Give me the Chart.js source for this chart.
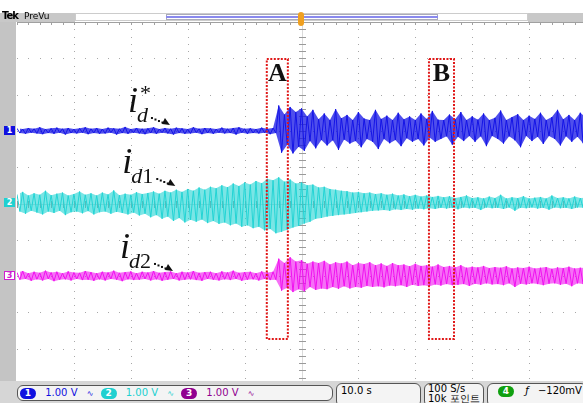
<!DOCTYPE html>
<html>
<head>
<meta charset="utf-8">
<script src="https://cdn.jsdelivr.net/npm/chart.js@4.4.0/dist/chart.umd.min.js"></script>
<style>
body { margin:0; width:583px; height:403px; overflow:hidden; background:#fff; position:relative; font-family:"DejaVu Sans", sans-serif; }
#wrap { position:absolute; left:0; top:0; width:586px; height:403px; }
.abs { position:absolute; }
.box { position:absolute; border:1px solid #555; border-radius:6px; background:#f4f4f4; box-sizing:border-box; font-size:10px; }
.badge { display:inline-block; width:16px; height:11px; border-radius:6px; color:#fff; font-weight:bold; font-size:9px; line-height:11px; text-align:center; vertical-align:middle; }
.mark { position:absolute; left:4px; width:11px; height:9px; font-size:8px; line-height:9px; text-align:center; font-weight:bold; color:#fff; }
</style>
</head>
<body>
<div id="wrap"><canvas id="chart" width="586" height="403"></canvas></div>

<!-- top bar -->
<div class="abs" style="left:0;top:13px;width:75px;height:9px;background:#c8c8c8"></div>
<div class="abs" style="left:2px;top:10px;font-size:10px;font-weight:bold;letter-spacing:-1px">Tek</div>
<div class="abs" style="left:24px;top:11px;font-size:9px">PreVu</div>
<div class="abs" style="left:75px;top:13px;width:453px;height:8px;border:1px solid #ccc;box-sizing:border-box"></div>
<div class="abs" style="left:166px;top:14px;width:272px;height:6px;border:1px solid #aab;box-sizing:border-box"></div>
<div class="abs" style="left:166px;top:16px;width:272px;height:2px;background:#8a8aee"></div>
<div class="abs" style="left:298px;top:12px;width:6px;height:14px;border-radius:3px;background:#f0a020"></div>
<div class="abs" style="left:528px;top:13px;width:55px;height:9px;background:#c8c8c8"></div>

<!-- left strip with channel markers -->
<div class="abs" style="left:0;top:22px;width:16px;height:360px;background:#c4c4c4"></div>
<div class="mark" style="top:126px;background:#1010e0">1</div>
<div class="mark" style="top:198px;background:#20d0d0">2</div>
<div class="mark" style="top:271px;background:#fff;border:1px solid #d020d0;color:#d020d0;width:9px;height:7px;line-height:7px">3</div>

<!-- status bar -->
<div class="abs" style="left:0;top:381px;width:583px;height:22px;background:#d6d6d6"></div>
<div class="box" style="left:17px;top:385px;width:316px;height:16px;padding-left:2px;line-height:14px">
  <span class="badge" style="background:#1010e0">1</span>
  <span style="color:#1010e0;margin-left:6px">1.00 V</span>
  <span style="color:#1010e0;margin-left:6px;font-size:8px">∿</span>
  <span class="badge" style="background:#20d0d0;margin-left:4px">2</span>
  <span style="color:#20d0d0;margin-left:6px">1.00 V</span>
  <span style="color:#20d0d0;margin-left:6px;font-size:8px">∿</span>
  <span class="badge" style="background:#900090;margin-left:4px">3</span>
  <span style="color:#900090;margin-left:6px">1.00 V</span>
  <span style="color:#900090;margin-left:6px;font-size:8px">∿</span>
</div>
<div class="box" style="left:336px;top:383px;width:85px;height:24px;padding:1px 4px">10.0 s</div>
<div class="box" style="left:424px;top:383px;width:60px;height:24px;padding:0 3px;line-height:10px">100 S/s<br>10k 포인트</div>
<div class="box" style="left:487px;top:383px;width:100px;height:24px;padding:1px 0 0 10px">
  <span class="badge" style="background:#10a010">4</span>
  <span style="margin-left:8px;font-style:italic">ƒ</span>
  <span style="margin-left:6px">−120mV</span>
</div>

<script>
// values in volts (1 V/div), upper and lower edge of each trace per 0.1 div of time
const UP1 = [
0.07,0.05,0.08,0.06,0.10,0.05,0.07,0.09,0.06,0.08,
0.05,0.07,0.10,0.06,0.08,0.05,0.09,0.07,0.06,0.11,
0.05,0.08,0.06,0.07,0.10,0.05,0.08,0.06,0.09,0.07,
0.05,0.10,0.06,0.08,0.07,0.05,0.09,0.06,0.08,0.10,
0.06,0.07,0.05,0.09,0.06,0.08,0.70,0.45,0.66,0.52,
0.62,0.40,0.58,0.32,0.48,0.30,0.60,0.35,0.44,0.30,
0.52,0.34,0.30,0.58,0.33,0.42,0.30,0.50,0.32,0.40,
0.30,0.48,0.33,0.55,0.31,0.30,0.45,0.32,0.52,0.30,
0.40,0.31,0.48,0.30,0.36,0.56,0.30,0.38,0.46,0.30,
0.42,0.33,0.50,0.30,0.38,0.58,0.32,0.44,0.30,0.50,
0.36];
const LO1 = [
-0.06,-0.08,-0.05,-0.07,-0.09,-0.06,-0.08,-0.05,-0.10,-0.06,
-0.07,-0.05,-0.09,-0.06,-0.08,-0.07,-0.05,-0.10,-0.06,-0.08,
-0.05,-0.07,-0.09,-0.06,-0.08,-0.05,-0.07,-0.10,-0.06,-0.08,
-0.07,-0.05,-0.09,-0.06,-0.08,-0.05,-0.07,-0.06,-0.10,-0.05,
-0.08,-0.06,-0.07,-0.05,-0.09,-0.06,-0.60,-0.38,-0.62,-0.44,
-0.55,-0.28,-0.48,-0.25,-0.40,-0.26,-0.52,-0.24,-0.35,-0.28,
-0.45,-0.22,-0.30,-0.50,-0.22,-0.34,-0.25,-0.42,-0.20,-0.30,
-0.22,-0.40,-0.18,-0.30,-0.22,-0.15,-0.38,-0.16,-0.28,-0.14,
-0.30,-0.15,-0.42,-0.14,-0.22,-0.35,-0.15,-0.26,-0.45,-0.14,
-0.28,-0.16,-0.36,-0.14,-0.22,-0.40,-0.15,-0.30,-0.16,-0.34,
-0.18];

const UP2 = [
0.25,0.32,0.22,0.28,0.24,0.35,0.23,0.27,0.30,0.22,
0.26,0.33,0.24,0.28,0.22,0.30,0.25,0.36,0.23,0.27,
0.24,0.31,0.26,0.29,0.33,0.27,0.35,0.30,0.38,0.32,
0.40,0.35,0.44,0.38,0.46,0.42,0.50,0.45,0.55,0.48,
0.58,0.52,0.62,0.56,0.68,0.64,0.72,0.60,0.66,0.55,
0.58,0.50,0.52,0.44,0.46,0.40,0.38,0.35,0.34,0.30,
0.32,0.28,0.30,0.26,0.28,0.24,0.27,0.22,0.25,0.20,
0.24,0.19,0.22,0.18,0.21,0.17,0.20,0.15,0.18,0.22,
0.15,0.17,0.14,0.19,0.15,0.24,0.14,0.17,0.15,0.20,
0.14,0.16,0.18,0.14,0.22,0.15,0.17,0.14,0.19,0.15,
0.16];
const LO2 = [
-0.22,-0.28,-0.20,-0.25,-0.30,-0.22,-0.26,-0.20,-0.32,-0.24,
-0.22,-0.27,-0.21,-0.30,-0.24,-0.22,-0.28,-0.23,-0.26,-0.30,
-0.25,-0.33,-0.28,-0.38,-0.32,-0.42,-0.36,-0.48,-0.40,-0.52,
-0.45,-0.50,-0.44,-0.54,-0.48,-0.56,-0.52,-0.60,-0.55,-0.64,
-0.60,-0.68,-0.64,-0.74,-0.70,-0.82,-0.78,-0.72,-0.66,-0.62,
-0.55,-0.50,-0.42,-0.40,-0.36,-0.34,-0.32,-0.30,-0.28,-0.26,
-0.24,-0.22,-0.20,-0.19,-0.18,-0.20,-0.16,-0.18,-0.15,-0.17,
-0.14,-0.16,-0.13,-0.15,-0.12,-0.14,-0.12,-0.16,-0.11,-0.13,
-0.12,-0.18,-0.11,-0.13,-0.12,-0.15,-0.11,-0.20,-0.12,-0.13,
-0.11,-0.14,-0.12,-0.17,-0.11,-0.13,-0.12,-0.15,-0.11,-0.12,
-0.13];

const UP3 = [
0.10,0.14,0.08,0.12,0.09,0.15,0.10,0.12,0.08,0.13,
0.10,0.09,0.14,0.11,0.08,0.12,0.10,0.15,0.09,0.11,
0.13,0.08,0.12,0.10,0.14,0.09,0.11,0.13,0.08,0.12,
0.10,0.14,0.09,0.11,0.12,0.08,0.13,0.10,0.15,0.09,
0.11,0.12,0.08,0.13,0.10,0.12,0.48,0.36,0.52,0.40,
0.44,0.34,0.40,0.36,0.42,0.32,0.38,0.35,0.40,0.30,
0.36,0.33,0.38,0.30,0.35,0.28,0.36,0.30,0.32,0.27,
0.34,0.28,0.30,0.26,0.32,0.25,0.28,0.24,0.30,0.23,
0.26,0.24,0.28,0.22,0.25,0.23,0.27,0.21,0.24,0.22,
0.26,0.21,0.23,0.25,0.20,0.24,0.22,0.26,0.21,0.23,
0.22];
const LO3 = [
-0.10,-0.08,-0.13,-0.09,-0.12,-0.08,-0.14,-0.10,-0.09,-0.12,
-0.08,-0.11,-0.10,-0.13,-0.09,-0.12,-0.08,-0.10,-0.14,-0.09,
-0.11,-0.10,-0.08,-0.12,-0.09,-0.13,-0.10,-0.08,-0.12,-0.10,
-0.09,-0.11,-0.13,-0.08,-0.10,-0.12,-0.09,-0.11,-0.08,-0.13,
-0.10,-0.09,-0.12,-0.08,-0.11,-0.10,-0.40,-0.32,-0.44,-0.36,
-0.42,-0.30,-0.38,-0.34,-0.36,-0.30,-0.35,-0.28,-0.34,-0.30,
-0.32,-0.27,-0.30,-0.28,-0.31,-0.26,-0.28,-0.25,-0.30,-0.24,
-0.27,-0.25,-0.28,-0.23,-0.26,-0.22,-0.25,-0.24,-0.22,-0.27,
-0.21,-0.24,-0.20,-0.23,-0.22,-0.25,-0.20,-0.30,-0.21,-0.23,
-0.20,-0.22,-0.25,-0.21,-0.20,-0.24,-0.21,-0.28,-0.20,-0.22,
-0.21];

// channel ground positions (div) and colours
const CH_POS = [2, 0, -2];
const CH_COLOR = ["#1414e6", "#22d4d4", "#f010f0"];
const CH_FILL = ["rgba(20,20,230,0.75)", "rgba(34,212,212,0.6)", "rgba(240,16,240,0.6)"];

// marked windows A and B (time in div, top/bottom in div)
const WINDOWS = [
  { name: "A", x0: 4.39, x1: 4.76 },
  { name: "B", x0: 7.24, x1: 7.68 }
];
const WIN_TOP = 3.98, WIN_BOTTOM = -3.73;

// trace labels
const LABELS = [
  { sub: "d", num: "", star: true, x: 1.95, y: 2.52 },
  { sub: "d", num: "1", star: false, x: 1.85, y: 0.84 },
  { sub: "d", num: "2", star: false, x: 1.81, y: -1.50 }
];

function trace(up, lo, pos) {
  const pts = [];
  for (let i = 0; i < up.length; i++) {
    pts.push({ x: i / 10, y: pos + up[i] });
    pts.push({ x: i / 10 + 0.05, y: pos + lo[i] });
  }
  return pts;
}
function edge(vals, pos, dx) {
  return vals.map((v, i) => ({ x: i / 10 + dx, y: pos + v }));
}

const datasets = [];
WINDOWS.forEach(w => {
  datasets.push({
    data: [{x:w.x0,y:WIN_TOP},{x:w.x1,y:WIN_TOP},{x:w.x1,y:WIN_BOTTOM},{x:w.x0,y:WIN_BOTTOM},{x:w.x0,y:WIN_TOP}],
    borderColor: "#e01818", borderWidth: 2, borderDash: [2, 1.5], pointRadius: 0, order: 0
  });
});
[[UP1, LO1], [UP2, LO2], [UP3, LO3]].forEach((p, k) => {
  // envelope band (upper edge, then lower edge filled back to it)
  datasets.push({ data: edge(p[0], CH_POS[k], 0), borderWidth: 0, pointRadius: 0, fill: false, order: 2 });
  datasets.push({ data: edge(p[1], CH_POS[k], 0.05), borderWidth: 0, pointRadius: 0, fill: "-1", backgroundColor: CH_FILL[k], order: 2 });
  // the trace itself
  datasets.push({ data: trace(p[0], p[1], CH_POS[k]), borderColor: CH_COLOR[k], borderWidth: 1, pointRadius: 0, order: 1 });
});

// scope graticule: dotted divisions, centre cross with ticks
const graticule = {
  id: "graticule",
  beforeDatasetsDraw(chart) {
    const { ctx, chartArea: a, scales: { x, y } } = chart;
    ctx.save();
    ctx.fillStyle = "#a8a8a8";
    for (let c = 1; c < 10; c++) {
      const px = Math.round(x.getPixelForValue(c));
      for (let k = -25; k <= 25; k++) ctx.fillRect(px, Math.round(y.getPixelForValue(k / 5)), 1, 1);
    }
    for (let r = -4; r <= 4; r++) {
      const py = Math.round(y.getPixelForValue(r));
      for (let k = 0; k <= 50; k++) ctx.fillRect(Math.round(x.getPixelForValue(k / 5)), py, 1, 1);
    }
    // centre lines
    const cx = Math.round(x.getPixelForValue(5)), cy = Math.round(y.getPixelForValue(0));
    ctx.fillStyle = "#dadada";
    ctx.fillRect(cx, a.top, 1, a.bottom - a.top);
    ctx.fillRect(a.left, cy, a.right - a.left, 1);
    ctx.fillStyle = "#9a9a9a";
    for (let k = -25; k <= 25; k++) ctx.fillRect(cx - 3, Math.round(y.getPixelForValue(k / 5)), 7, 1);
    for (let k = 0; k <= 50; k++) ctx.fillRect(Math.round(x.getPixelForValue(k / 5)), cy - 3, 1, 7);
    // top edge with ticks
    ctx.fillStyle = "#a0a0a0";
    ctx.fillRect(a.left, a.top, a.right - a.left, 1);
    for (let k = 0; k <= 50; k++) ctx.fillRect(Math.round(x.getPixelForValue(k / 5)), a.top, 1, 3);
    ctx.restore();
  }
};

const labels = {
  id: "labels",
  afterDatasetsDraw(chart) {
    const { ctx, scales: { x, y } } = chart;
    ctx.save();
    ctx.fillStyle = "#111";
    ctx.textBaseline = "alphabetic";
    ctx.font = "bold 26px 'Liberation Serif', serif";
    ctx.textAlign = "center";
    WINDOWS.forEach(w => {
      ctx.fillText(w.name, x.getPixelForValue((w.x0 + w.x1) / 2), y.getPixelForValue(3.37));
    });
    ctx.textAlign = "left";
    LABELS.forEach(l => {
      const px = x.getPixelForValue(l.x), py = y.getPixelForValue(l.y);
      ctx.font = "italic 36px 'Liberation Serif', serif";
      ctx.fillText("i", px, py);
      if (l.star) {
        ctx.font = "22px 'Liberation Serif', serif";
        ctx.fillText("*", px + 12, py - 12);
      }
      ctx.font = "italic 22px 'Liberation Serif', serif";
      ctx.fillText(l.sub, px + 9, py + 10);
      let ex = px + 9 + ctx.measureText(l.sub).width;
      if (l.num) {
        ctx.font = "22px 'Liberation Serif', serif";
        ctx.fillText(l.num, ex, py + 10);
        ex += ctx.measureText(l.num).width;
      }
      // dotted arrow
      const sx = ex + 3, sy = py + 5;
      for (let d = 0; d < 4; d++) ctx.fillRect(sx + d * 3.5, sy + d * 1.5, 2, 2);
      ctx.beginPath();
      ctx.moveTo(sx + 19, sy + 8);
      ctx.lineTo(sx + 11, sy + 7);
      ctx.lineTo(sx + 14, sy + 1);
      ctx.closePath();
      ctx.fill();
    });
    ctx.restore();
  }
};

new Chart(document.getElementById("chart"), {
  type: "line",
  data: { datasets: datasets },
  options: {
    responsive: false,
    animation: false,
    events: [],
    layout: { padding: { left: 17, top: 22, right: 0, bottom: 18 } },
    plugins: { legend: { display: false }, tooltip: { enabled: false } },
    elements: { line: { tension: 0, fill: false } },
    scales: {
      x: { type: "linear", min: 0, max: 10, display: false },
      y: { type: "linear", min: -5, max: 5, display: false }
    }
  },
  plugins: [graticule, labels]
});
</script>
</body>
</html>
